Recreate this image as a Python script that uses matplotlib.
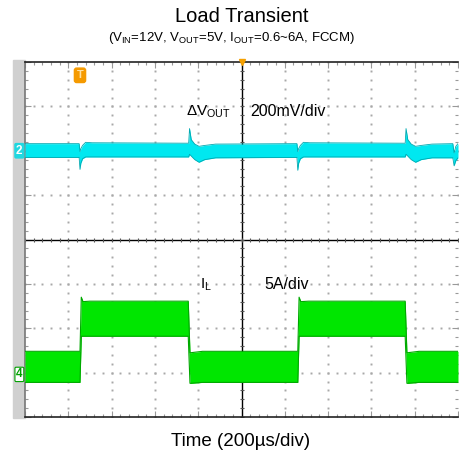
import numpy as np
import matplotlib
matplotlib.use("Agg")
import matplotlib.pyplot as plt
from matplotlib.patches import Rectangle

# ======================
# DATA (screen divisions: x 0..10, y -4..4)
# ======================
# load steps of the inductor current (time in div)
t_rise = [1.27, 6.30]
t_fall = [3.77, 8.78]

# output voltage ripple band, channel 2 (div)
t_cyan = [0.00, 1.25, 1.27, 1.29, 1.33, 1.40, 1.55, 3.78, 3.80, 3.84, 3.92, 4.02, 4.15, 4.40,
          6.28, 6.30, 6.32, 6.36, 6.43, 6.58, 8.78, 8.80, 8.84, 8.92, 9.02, 9.15, 9.40,
          9.88, 9.91, 9.95, 10.0]
cyan_hi = [2.16, 2.16, 1.98, 2.05, 2.12, 2.19, 2.18, 2.17, 2.50, 2.25, 2.15, 2.10, 2.12, 2.15,
           2.16, 1.98, 2.05, 2.12, 2.19, 2.18, 2.17, 2.50, 2.25, 2.15, 2.10, 2.12, 2.15,
           2.16, 1.95, 2.10, 2.16]
cyan_lo = [1.85, 1.85, 1.58, 1.72, 1.82, 1.86, 1.86, 1.86, 1.92, 1.88, 1.80, 1.74, 1.80, 1.84,
           1.85, 1.56, 1.72, 1.82, 1.86, 1.86, 1.86, 1.92, 1.88, 1.80, 1.74, 1.80, 1.84,
           1.84, 1.66, 1.78, 1.84]

# inductor current band, channel 4 (div)
t_green = [0.00, 1.27, 1.30, 1.34, 1.50, 3.77, 3.81, 3.84, 4.10,
           6.30, 6.33, 6.37, 6.55, 8.78, 8.82, 8.85, 9.10, 10.0]
green_hi = [-2.52, -2.52, -1.30, -1.40, -1.39, -1.39, -2.55, -2.55, -2.52,
            -2.52, -1.30, -1.40, -1.39, -1.39, -2.55, -2.55, -2.52, -2.52]
green_lo = [-3.22, -3.22, -2.18, -2.18, -2.18, -2.18, -3.24, -3.24, -3.22,
            -3.22, -2.18, -2.18, -2.18, -2.18, -3.24, -3.24, -3.22, -3.22]

ch2_level = 2.0
ch4_level = -3.04
trig_pos = 5.0

# ======================
# FIGURE
# ======================
plt.rcParams["font.family"] = ["Liberation Sans", "DejaVu Sans"]
plt.rcParams["mathtext.fontset"] = "custom"
plt.rcParams["mathtext.rm"] = "Liberation Sans"
plt.rcParams["mathtext.it"] = "Liberation Sans"

W, H = 460, 459
fig = plt.figure(figsize=(W / 100, H / 100), dpi=100)
ax = fig.add_axes([25 / W, 1 - 417 / H, 433 / W, 355 / H])
ax.set_xlim(0, 10)
ax.set_ylim(-4, 4)

# grey strip left of the screen
fig.patches.append(Rectangle((13 / W, 1 - 418 / H), 12 / W, 358 / H,
                             transform=fig.transFigure, color="#d0d0d0", zorder=-1))

# dotted graticule
grid_c = "#a8a8a8"
fine_x = np.arange(0, 10.01, 0.2)
fine_y = np.arange(-4, 4.01, 0.2)
for gx in range(1, 10):
    if gx == 5:
        continue
    ax.plot(np.full_like(fine_y, gx), fine_y, ls="none", marker="s", ms=1.4,
            mew=0, color=grid_c, zorder=1)
for gy in range(-3, 4):
    if gy == 0:
        continue
    ax.plot(fine_x, np.full_like(fine_x, gy), ls="none", marker="s", ms=1.4,
            mew=0, color=grid_c, zorder=1)

# centre axes with ticks
ax.axhline(0, color="black", lw=1.0, zorder=2)
ax.axvline(5, color="black", lw=1.0, zorder=2)
ax.plot(fine_x, np.zeros_like(fine_x), ls="none", marker="|", ms=3.5, mew=0.8,
        color="#555555", zorder=2)
ax.plot(np.full_like(fine_y, 5), fine_y, ls="none", marker="_", ms=3.5, mew=0.8,
        color="#555555", zorder=2)

# traces
ax.fill_between(t_cyan, cyan_lo, cyan_hi, color="#00e8f0", lw=0, zorder=3)
ax.plot(t_cyan, cyan_hi, color="#00a8b0", lw=0.6, zorder=3)
ax.plot(t_cyan, cyan_lo, color="#00a8b0", lw=0.6, zorder=3)

ax.fill_between(t_green, green_lo, green_hi, color="#00e600", lw=0, zorder=3)
ax.plot(t_green, green_hi, color="#00a800", lw=0.8, zorder=3)
ax.plot(t_green, green_lo, color="#00a800", lw=0.8, zorder=3)

# border
for side in ["top", "bottom"]:
    ax.spines[side].set_color("#222222")
    ax.spines[side].set_linewidth(1.2)
ax.spines["left"].set_color("#777777")
ax.spines["left"].set_linewidth(1.2)
ax.spines["right"].set_visible(False)
ax.set_xticks(range(0, 11))
ax.set_yticks(range(-4, 5))
ax.set_xticks(fine_x, minor=True)
ax.set_yticks(fine_y, minor=True)
ax.tick_params(which="both", direction="in", top=True, right=True,
               labelbottom=False, labelleft=False, color="#999999")
ax.tick_params(which="major", length=4, width=0.8)
ax.tick_params(which="minor", length=2.5, width=0.8)

# markers
ax.plot([trig_pos], [4], marker="v", ms=5, color="#f5a000", clip_on=False, zorder=5)
ax.text(t_rise[0], 3.70, "T", fontsize=8, color="#ffe0a0", ha="center", va="center",
        fontweight="bold", zorder=5,
        bbox=dict(boxstyle="round,pad=0.2", fc="#f59a00", ec="#f59a00"))
ax.text(-0.13, ch2_level, "2", fontsize=8.5, color="white", ha="center", va="center",
        fontweight="bold", zorder=5, clip_on=False,
        bbox=dict(boxstyle="round,pad=0.1", fc="#20d8e0", ec="#20d8e0"))
ax.text(-0.13, ch4_level, "4", fontsize=8.5, color="#00a000", ha="center", va="center",
        fontweight="bold", zorder=5, clip_on=False,
        bbox=dict(boxstyle="round,pad=0.1", fc="white", ec="#00a000", lw=0.8))

# labels on screen
ax.text(3.72, 2.88, r"$\Delta\mathrm{V}_{\mathrm{OUT}}$", fontsize=11, va="center", zorder=6)
ax.text(5.20, 2.88, "200mV/div", fontsize=11.5, va="center", zorder=6)
ax.text(4.05, -1.02, r"$\mathrm{I}_{\mathrm{L}}$", fontsize=11, va="center", zorder=6)
ax.text(5.52, -1.02, "5A/div", fontsize=11.5, va="center", zorder=6)

# titles
fig.text(242 / W, 1 - 16 / H, "Load Transient", fontsize=14.5, ha="center", va="center")
fig.text(231 / W, 1 - 38 / H,
         r"($\mathrm{V_{IN}}$=12V, $\mathrm{V_{OUT}}$=5V, $\mathrm{I_{OUT}}$=0.6~6A, FCCM)",
         fontsize=9.5, ha="center", va="center")
fig.text(241 / W, 1 - 442 / H, "Time (200µs/div)", fontsize=13.5, ha="center", va="center")

fig.savefig("out.png", dpi=100)
